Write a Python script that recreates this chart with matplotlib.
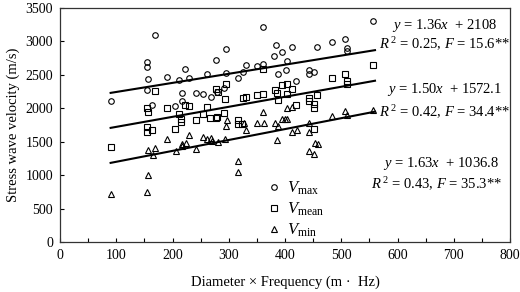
import matplotlib
matplotlib.use("Agg")
import matplotlib.pyplot as plt
import numpy as np

# ---- data ----
vmax_x = [91, 154, 155, 157, 155, 163, 169, 191, 204, 212, 216, 216, 223, 229, 241, 255, 261, 268,
          277, 279, 292, 295, 295, 316, 325, 331, 351, 360, 361, 381, 384, 387, 395, 402, 404, 413,
          420, 443, 443, 452, 457, 483, 507, 510, 510, 557]
vmax_y = [2110, 2690, 2620, 2445, 2275, 2045, 3100, 2470, 2035, 2420, 2235, 2110, 2590, 2450, 2235,
          2215, 2510, 2165, 2720, 2250, 2310, 2525, 2890, 2450, 2540, 2640, 2625, 3215, 2660, 2780,
          2945, 2520, 2840, 2575, 2700, 2915, 2410, 2575, 2510, 2545, 2915, 2985, 3035, 2895, 2855,
          3305]

vmean_x = [91, 154, 157, 154, 155, 163, 169, 190, 204, 212, 215, 215, 223, 229, 241, 255, 261, 267,
           277, 277, 280, 279, 292, 294, 295, 316, 316, 323, 325, 331, 351, 360, 361, 382, 385, 387,
           395, 403, 404, 413, 420, 443, 443, 452, 452, 452, 457, 483, 507, 510, 510, 557]
vmean_y = [1415, 2010, 1940, 1720, 1650, 1680, 2260, 2005, 1690, 1915, 1840, 1800, 2050, 2035, 1825,
           1910, 2020, 1850, 2290, 1860, 2240, 1875, 1925, 2135, 2365, 1825, 1760, 1760, 2155, 2165,
           2200, 2585, 2220, 2275, 2235, 2130, 2355, 2210, 2370, 2290, 2050, 2150, 2110, 2060, 2010,
           1690, 2200, 2450, 2510, 2410, 2370, 2650]

vmin_x = [91, 155, 156, 157, 165, 169, 191, 206, 216, 224, 216, 230, 242, 255, 261, 268, 270, 280,
          293, 295, 296, 316, 317, 327, 330, 350, 361, 362, 382, 385, 388, 394, 400, 404, 404, 412,
          413, 421, 443, 443, 443, 452, 453, 458, 483, 507, 510, 557]
vmin_y = [725, 745, 1000, 1380, 1300, 1400, 1540, 1360, 1465, 1485, 1440, 1600, 1390, 1575, 1535,
          1560, 1515, 1500, 1535, 1740, 1830, 1050, 1215, 1775, 1675, 1775, 1950, 1775, 1775, 1520,
          1735, 1840, 1840, 1840, 2010, 2025, 1650, 1670, 1775, 1650, 1360, 1310, 1475, 1460, 1885,
          1960, 1900, 1975]

fits = [(1.36, 2108), (1.50, 1572.1), (1.63, 1036.8)]
fit_range = [90, 560]
eq_lines = [
    (r"$y$ = 1.36$x$  + 2108", r"$R^{\,2}$ = 0.25, $F$ = 15.6**"),
    (r"$y$ = 1.50$x$  + 1572.1", r"$R^{\,2}$ = 0.42, $F$ = 34.4**"),
    (r"$y$ = 1.63$x$  + 1036.8", r"$R^{\,2}$ = 0.43, $F$ = 35.3**"),
]
eq_pos = [((684, 3231), (684, 2962)), ((684, 2274), (684, 1945)), ((677, 1167), (670, 868))]

# ---- style ----
plt.rcParams['font.family'] = ['Liberation Serif', 'DejaVu Serif']
plt.rcParams['mathtext.fontset'] = 'custom'
plt.rcParams['mathtext.rm'] = 'Liberation Serif'
plt.rcParams['mathtext.it'] = 'Liberation Serif:italic'
plt.rcParams['mathtext.bf'] = 'Liberation Serif:bold'

fig = plt.figure(figsize=(5.2, 2.92), dpi=100)
ax = fig.add_axes([60/520, 1-242/292, 450/520, 234/292])

mk = dict(linestyle='none', markerfacecolor='none', markeredgecolor='black',
          markersize=4, markeredgewidth=0.8)
ax.plot(vmax_x, vmax_y, marker='o', label=r"$V_{\mathrm{max}}$", **mk)
ax.plot(vmean_x, vmean_y, marker='s', label=r"$V_{\mathrm{mean}}$", **mk)
ax.plot(vmin_x, vmin_y, marker='^', label=r"$V_{\mathrm{min}}$", **mk)

xs = np.array(fit_range, dtype=float)
for a, b in fits:
    ax.plot(xs, a*xs + b, color='black', lw=1.5)

for (l1, l2), (p1, p2) in zip(eq_lines, eq_pos):
    ax.text(p1[0], p1[1], l1, ha='center', va='center', fontsize=10.5)
    ax.text(p2[0], p2[1], l2, ha='center', va='center', fontsize=10.5)

ax.set_xlim(0, 800)
ax.set_ylim(0, 3500)
ax.set_xticks(np.arange(0, 801, 100))
ax.set_xticks(np.arange(0, 801, 50), minor=True)
ax.set_yticks(np.arange(0, 3501, 500))
ax.tick_params(axis='both', direction='in', length=3, width=0.8, labelsize=10, pad=5)
ax.tick_params(axis='x', which='minor', direction='in', length=3, width=0.8)
for s in ax.spines.values():
    s.set_color('#333333')
    s.set_linewidth(0.9)

ax.set_xlabel("Diameter × Frequency (m ·  Hz)", fontsize=10.5, labelpad=10)
ax.set_ylabel("Stress wave velocity (m/s)", fontsize=10.5, labelpad=4)

leg = ax.legend(loc='lower left', bbox_to_anchor=(0.43, -0.037), frameon=False,
                fontsize=12, handlelength=1.0, handletextpad=0.3, labelspacing=0.22,
                borderpad=0.2)

fig.savefig("out.png", dpi=100)
